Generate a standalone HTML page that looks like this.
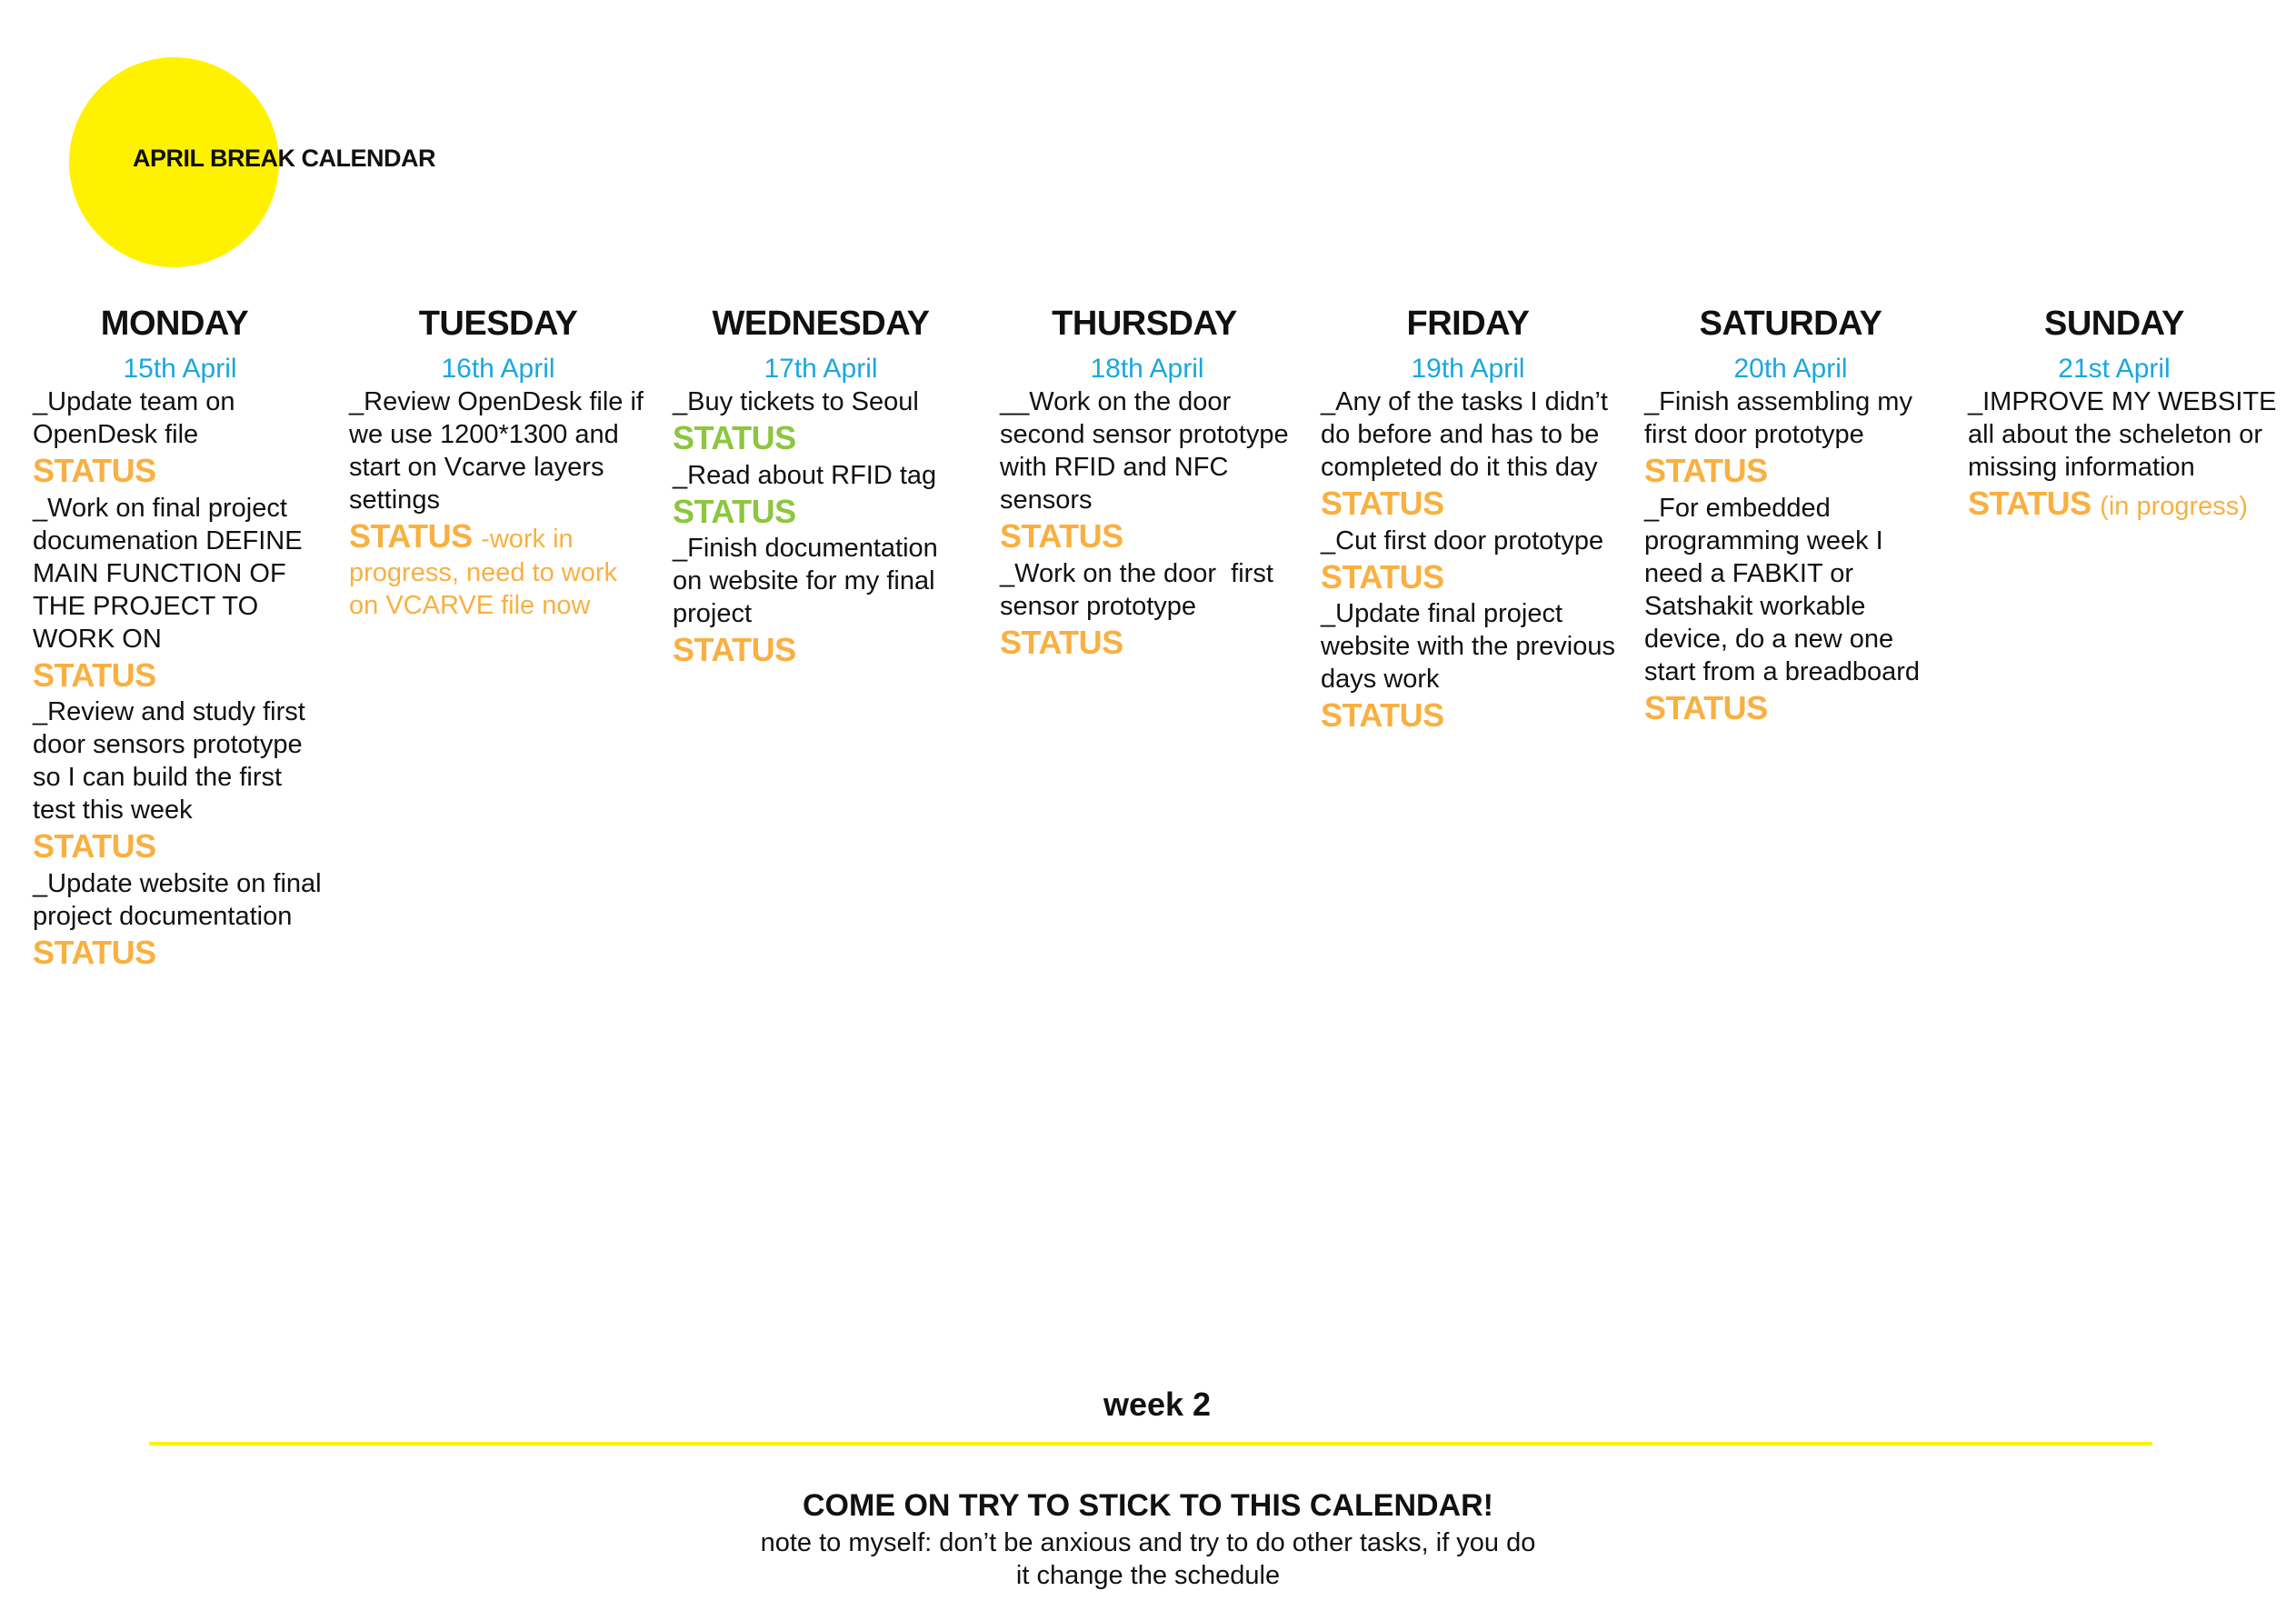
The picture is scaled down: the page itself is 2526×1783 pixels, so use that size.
<!DOCTYPE html>
<html><head><meta charset="utf-8"><style>
html,body{margin:0;padding:0;background:#fff;}
body{width:2526px;height:1783px;position:relative;overflow:hidden;font-family:"Liberation Sans Narrow","Liberation Sans",sans-serif;color:#111;}
.circ{position:absolute;left:76px;top:63px;width:231px;height:231px;border-radius:50%;background:#fff200;}
.title{position:absolute;left:146px;top:159px;font:bold 27px "Liberation Sans",sans-serif;letter-spacing:-0.5px;}
.day{position:absolute;top:335px;width:360px;margin-left:-180px;text-align:center;font:bold 38px "Liberation Sans",sans-serif;letter-spacing:-0.5px;}
.date{position:absolute;top:389px;width:360px;margin-left:-180px;text-align:center;color:#1aa7e0;font-size:30px;}
.col{position:absolute;top:424px;width:345px;font-size:29px;line-height:36px;white-space:nowrap;}
.s{display:block;font:bold 36px/44.5px "Liberation Sans",sans-serif;color:#f9b040;letter-spacing:-0.5px;}
.g{color:#8dc63f;}
.o{color:#f9b040;font:29px "Liberation Sans Narrow","Liberation Sans",sans-serif;letter-spacing:0;}
.c{position:absolute;left:0;width:2526px;text-align:center;}
</style></head><body>
<div class="circ"></div>
<div class="title">APRIL BREAK CALENDAR</div>

<div class="day" style="left:192px">MONDAY</div>
<div class="day" style="left:548px">TUESDAY</div>
<div class="day" style="left:903px">WEDNESDAY</div>
<div class="day" style="left:1259px">THURSDAY</div>
<div class="day" style="left:1615px">FRIDAY</div>
<div class="day" style="left:1970px">SATURDAY</div>
<div class="day" style="left:2326px">SUNDAY</div>

<div class="date" style="left:198px">15th April</div>
<div class="date" style="left:548px">16th April</div>
<div class="date" style="left:903px">17th April</div>
<div class="date" style="left:1262px">18th April</div>
<div class="date" style="left:1615px">19th April</div>
<div class="date" style="left:1970px">20th April</div>
<div class="date" style="left:2326px">21st April</div>

<div class="col" style="left:36px">_Update team on<br>OpenDesk file<span class="s">STATUS</span>_Work on final project<br>documenation DEFINE<br>MAIN FUNCTION OF<br>THE PROJECT TO<br>WORK ON<span class="s">STATUS</span>_Review and study first<br>door sensors prototype<br>so I can build the first<br>test this week<span class="s">STATUS</span>_Update website on final<br>project documentation<span class="s">STATUS</span></div>

<div class="col" style="left:384px">_Review OpenDesk file if<br>we use 1200*1300 and<br>start on Vcarve layers<br>settings<span class="s">STATUS <span class="o">-work in</span></span><span style="color:#f9b040;display:block;margin-top:-1px">progress, need to work<br>on VCARVE file now</span></div>

<div class="col" style="left:740px">_Buy tickets to Seoul<span class="s g">STATUS</span>_Read about RFID tag<span class="s g">STATUS</span>_Finish documentation<br>on website for my final<br>project<span class="s">STATUS</span></div>

<div class="col" style="left:1100px">__Work on the door<br>second sensor prototype<br>with RFID and NFC<br>sensors<span class="s">STATUS</span>_Work on the door&nbsp; first<br>sensor prototype<span class="s">STATUS</span></div>

<div class="col" style="left:1453px">_Any of the tasks I didn’t<br>do before and has to be<br>completed do it this day<span class="s">STATUS</span>_Cut first door prototype<span class="s">STATUS</span>_Update final project<br>website with the previous<br>days work<span class="s">STATUS</span></div>

<div class="col" style="left:1809px">_Finish assembling my<br>first door prototype<span class="s">STATUS</span>_For embedded<br>programming week I<br>need a FABKIT or<br>Satshakit workable<br>device, do a new one<br>start from a breadboard<span class="s">STATUS</span></div>

<div class="col" style="left:2165px">_IMPROVE MY WEBSITE<br>all about the scheleton or<br>missing information<span class="s">STATUS <span class="o">(in progress)</span></span></div>

<div class="c" style="top:1524px;font:bold 36px 'Liberation Sans',sans-serif;left:10px">week 2</div>
<div style="position:absolute;left:164px;top:1586px;width:2204px;height:4px;background:#fff200"></div>
<div class="c" style="top:1637px;font:bold 34px 'Liberation Sans',sans-serif;left:0px">COME ON TRY TO STICK TO THIS CALENDAR!</div>
<div class="c" style="top:1679px;font-size:29px;line-height:36px;left:0px">note to myself: don’t be anxious and try to do other tasks, if you do<br>it change the schedule</div>
</body></html>
